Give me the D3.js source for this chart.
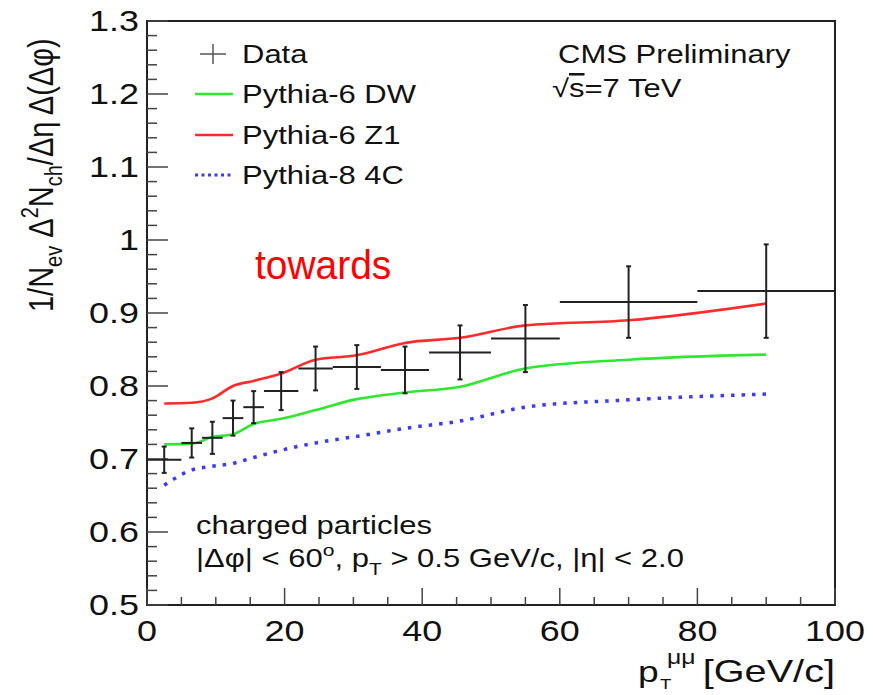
<!DOCTYPE html>
<html>
<head>
<meta charset="utf-8">
<script src="https://cdn.jsdelivr.net/npm/d3@7"></script>
<style>
  body { margin: 0; background: #fff; }
  text { font-family: "Liberation Sans", Arial, sans-serif; fill: #111; }
</style>
</head>
<body>
<div id="chart"></div>
<script>
// bins of the data histogram (GeV/c)
var binLo = [0, 5, 8, 11, 14, 17, 22, 27, 34, 41, 50, 60, 80];
var binHi = [5, 8, 11, 14, 17, 22, 27, 34, 41, 50, 60, 80, 100];
var dataY = [0.699, 0.722, 0.729, 0.756, 0.771, 0.793, 0.824, 0.826, 0.822, 0.846, 0.865, 0.915, 0.930];
var dataErr = [0.018, 0.020, 0.022, 0.024, 0.022, 0.026, 0.030, 0.030, 0.032, 0.037, 0.046, 0.049, 0.064];

// model curves, evaluated at bin centres
var modelX = [2.5, 6.5, 9.5, 12.5, 15.5, 19.5, 24.5, 30.5, 37.5, 45.5, 55, 70, 90];
var dwY = [0.720, 0.721, 0.730, 0.734, 0.748, 0.755, 0.767, 0.782, 0.791, 0.799, 0.824, 0.836, 0.843];
var z1Y = [0.776, 0.777, 0.783, 0.800, 0.807, 0.817, 0.836, 0.842, 0.859, 0.866, 0.883, 0.890, 0.913];
var c4Y = [0.664, 0.685, 0.690, 0.694, 0.702, 0.712, 0.722, 0.731, 0.742, 0.752, 0.771, 0.781, 0.789];

var yTicks = [0.5, 0.6, 0.7, 0.8, 0.9, 1, 1.1, 1.2, 1.3];
var xTicks = [0, 20, 40, 60, 80, 100];
var legendNames = ["Data", "Pythia-6 DW", "Pythia-6 Z1", "Pythia-8 4C"];

var SX = 1.24; // picture is stretched sideways
var green = "#2ee82e", red = "#ff2a2a", blue = "#3a3aff";

var svg = d3.select("#chart").append("svg")
  .attr("width", 873).attr("height", 695);

var x = d3.scaleLinear().domain([0, 100]).range([147, 835]);
var y = d3.scaleLinear().domain([0.5, 1.3]).range([605, 21]);

function stext(px, py, size, anchor) {
  var g = svg.append("g").attr("transform", "translate(" + px + "," + py + ") scale(" + SX + ",1)");
  return g.append("text").attr("font-size", size).attr("text-anchor", anchor || "start");
}

// frame
svg.append("rect")
  .attr("x", x(0)).attr("y", y(1.3))
  .attr("width", x(100) - x(0)).attr("height", y(0.5) - y(1.3))
  .attr("fill", "none").attr("stroke", "#222").attr("stroke-width", 2);

// y ticks (inward)
var yMinor = d3.range(0.5, 1.3001, 0.02);
svg.append("g").selectAll("line").data(yMinor).enter().append("line")
  .attr("x1", x(0)).attr("x2", function(d) {
    return Math.abs(d * 10 - Math.round(d * 10)) < 1e-6 ? x(0) + 21 : x(0) + 10;
  })
  .attr("y1", function(d) { return y(d); }).attr("y2", function(d) { return y(d); })
  .attr("stroke", "#444").attr("stroke-width", 1.5);

// x ticks
var xMinor = d3.range(0, 100.1, 5);
svg.append("g").selectAll("line").data(xMinor).enter().append("line")
  .attr("x1", function(d) { return x(d); }).attr("x2", function(d) { return x(d); })
  .attr("y1", y(0.5)).attr("y2", function(d) { return d % 20 === 0 ? y(0.5) - 17 : y(0.5) - 8; })
  .attr("stroke", "#444").attr("stroke-width", 1.5);

yTicks.forEach(function(t) {
  stext(x(0) - 8, y(t) + 10, 29, "end").text(t === 1 ? "1" : d3.format(".1f")(t));
});
xTicks.forEach(function(t) {
  stext(x(t), 641, 29, "middle").text(t);
});

// axis titles
var yt = svg.append("g").attr("transform", "translate(53,312) rotate(-90) scale(1," + SX + ")")
  .append("text").attr("font-size", 29);
yt.append("tspan").text("1/N");
yt.append("tspan").attr("font-size", 20).attr("dy", 7).text("ev");
yt.append("tspan").attr("dy", -7).text(" \u0394");
yt.append("tspan").attr("font-size", 20).attr("dy", -12).text("2");
yt.append("tspan").attr("dy", 12).text("N");
yt.append("tspan").attr("font-size", 20).attr("dy", 7).text("ch");
yt.append("tspan").attr("dy", -7).text("/\u0394\u03b7 \u0394(\u0394\u03c6)");

stext(835, 682, 32, "end").text("[GeV/c]");
stext(638, 682, 30).text("p");
stext(660, 689, 15).text("T");
stext(667, 664, 20).text("\u03bc\u03bc");

// model lines
var line = d3.line().curve(d3.curveMonotoneX)
  .x(function(d) { return x(d[0]); }).y(function(d) { return y(d[1]); });

function drawModel(vals, col, dash) {
  svg.append("path").datum(d3.zip(modelX, vals))
    .attr("d", line).attr("fill", "none").attr("stroke", col)
    .attr("stroke-width", dash ? 3.5 : 2.6)
    .attr("stroke-dasharray", dash || null);
}
drawModel(dwY, green);
drawModel(z1Y, red);
drawModel(c4Y, blue, "3.5,7");

// data crosses
var pts = svg.append("g").selectAll("g").data(dataY).enter().append("g")
  .attr("stroke", "#222").attr("stroke-width", 2);
pts.append("line")
  .attr("x1", function(d, i) { return x(binLo[i]); }).attr("x2", function(d, i) { return x(binHi[i]); })
  .attr("y1", function(d) { return y(d); }).attr("y2", function(d) { return y(d); });
pts.append("line")
  .attr("x1", function(d, i) { return x((binLo[i] + binHi[i]) / 2); })
  .attr("x2", function(d, i) { return x((binLo[i] + binHi[i]) / 2); })
  .attr("y1", function(d, i) { return y(d + dataErr[i]); })
  .attr("y2", function(d, i) { return y(d - dataErr[i]); });
[1, -1].forEach(function(s) {
  pts.append("line")
    .attr("x1", function(d, i) { return x((binLo[i] + binHi[i]) / 2) - 2.5; })
    .attr("x2", function(d, i) { return x((binLo[i] + binHi[i]) / 2) + 2.5; })
    .attr("y1", function(d, i) { return y(d + s * dataErr[i]); })
    .attr("y2", function(d, i) { return y(d + s * dataErr[i]); });
});

// legend
var legY = [54, 94, 135, 175];
var leg = svg.append("g");
leg.append("line").attr("x1", 200).attr("x2", 226).attr("y1", legY[0]).attr("y2", legY[0])
  .attr("stroke", "#555").attr("stroke-width", 1.5);
leg.append("line").attr("x1", 213).attr("x2", 213).attr("y1", legY[0] - 10).attr("y2", legY[0] + 10)
  .attr("stroke", "#555").attr("stroke-width", 1.5);
[[green, null], [red, null], [blue, "3,3.5"]].forEach(function(c, i) {
  leg.append("line").attr("x1", 195).attr("x2", 233).attr("y1", legY[i + 1]).attr("y2", legY[i + 1])
    .attr("stroke", c[0]).attr("stroke-width", c[1] ? 3 : 2.6).attr("stroke-dasharray", c[1]);
});
legendNames.forEach(function(n, i) {
  stext(242, legY[i] + 9, 25).text(n);
});

// labels
stext(558, 63, 25).text("CMS Preliminary");
var rs = stext(552, 97, 25);
rs.append("tspan").text("\u221a");
rs.append("tspan").style("text-decoration", "overline").text("s");
rs.append("tspan").text("=7 TeV");

svg.append("g").attr("transform", "translate(255,279) scale(0.95,1)")
  .append("text").attr("font-size", 41).style("fill", "#ff0000").text("towards");

stext(196, 534, 25).text("charged particles");
var cut = stext(196, 567, 25);
cut.append("tspan").text("|\u0394\u03c6| < 60");
cut.append("tspan").attr("font-size", 17).attr("dy", -11).text("o");
cut.append("tspan").attr("dy", 11).text(", p");
cut.append("tspan").attr("font-size", 17).attr("dy", 8).text("T");
cut.append("tspan").attr("dy", -8).text(" > 0.5 GeV/c, |\u03b7| < 2.0");
</script>
</body>
</html>
